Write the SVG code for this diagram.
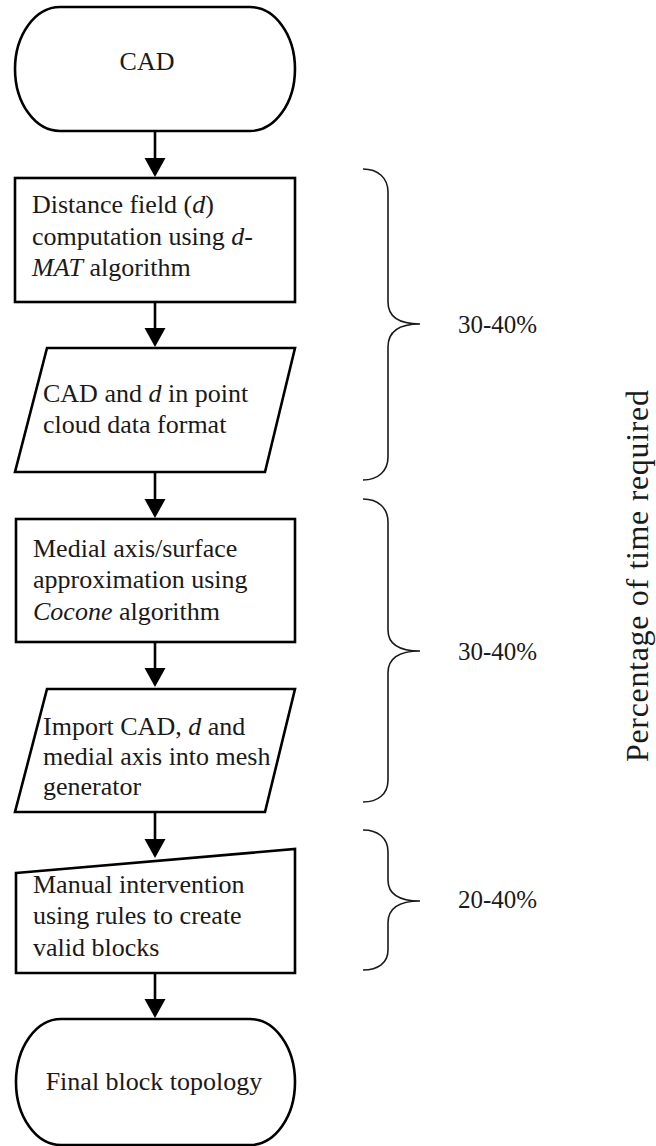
<svg xmlns="http://www.w3.org/2000/svg" width="656" height="1146" viewBox="0 0 656 1146">
<style>
.shape{fill:#fff;stroke:#000;stroke-width:2.6}
.conn{stroke:#000;stroke-width:2.6;fill:none}
.brace{stroke:#1a1a1a;stroke-width:1.6;fill:none}
text{font-family:"Liberation Serif","Times New Roman",serif;fill:#1a1a1a}
.t{font-size:26px}
.p{font-size:25px}
.i{font-style:italic}
</style>
<defs>
<marker id="ah" markerUnits="userSpaceOnUse" markerWidth="20" markerHeight="22" refX="0" refY="10.5" orient="auto">
<path d="M0,0 L19,10.5 L0,21 Z" fill="#000"/>
</marker>
</defs>
<rect width="656" height="1146" fill="#fff"/>
<g id="connectors">
<line class="conn" x1="155" y1="132" x2="155" y2="158" marker-end="url(#ah)"/>
<line class="conn" x1="155" y1="302" x2="155" y2="328" marker-end="url(#ah)"/>
<line class="conn" x1="155" y1="472" x2="155" y2="499" marker-end="url(#ah)"/>
<line class="conn" x1="155" y1="642" x2="155" y2="668" marker-end="url(#ah)"/>
<line class="conn" x1="155" y1="812" x2="155" y2="839" marker-end="url(#ah)"/>
<line class="conn" x1="155" y1="973" x2="155" y2="999" marker-end="url(#ah)"/>
</g>
<g id="n-cad">
<path class="shape" d="M60,7 H250 A45,62 0 0 1 250,131 H60 A45,62 0 0 1 60,7 Z"/>
<text class="t" x="147" y="70" text-anchor="middle">CAD</text>
</g>
<g id="n-distance">
<rect class="shape" x="15" y="178" width="280" height="124"/>
<text class="t" x="32" y="213">Distance field (<tspan class="i">d</tspan>)</text>
<text class="t" x="32" y="245">computation using <tspan class="i">d</tspan>-</text>
<text class="t" x="32" y="276"><tspan class="i">MAT</tspan> algorithm</text>
</g>
<g id="n-pointcloud">
<path class="shape" d="M47,348 H295 L265,472 H15 Z"/>
<text class="t" x="43" y="402">CAD and <tspan class="i">d</tspan> in point</text>
<text class="t" x="43" y="433">cloud data format</text>
</g>
<g id="n-medial">
<rect class="shape" x="16" y="519" width="279" height="123"/>
<text class="t" x="33" y="557">Medial axis/surface</text>
<text class="t" x="33" y="588">approximation using</text>
<text class="t" x="33" y="620"><tspan class="i">Cocone</tspan> algorithm</text>
</g>
<g id="n-import">
<path class="shape" d="M47,689 H295 L265,812 H15 Z"/>
<text class="t" x="43" y="735">Import CAD, <tspan class="i">d</tspan> and</text>
<text class="t" x="43" y="765">medial axis into mesh</text>
<text class="t" x="43" y="795">generator</text>
</g>
<g id="n-manual">
<path class="shape" d="M16,873 L295,849 V973 H16 Z"/>
<text class="t" x="33" y="893">Manual intervention</text>
<text class="t" x="33" y="924">using rules to create</text>
<text class="t" x="33" y="956">valid blocks</text>
</g>
<g id="n-final">
<path class="shape" d="M61,1019 H250 A45,63 0 0 1 250,1145 H61 A45,63 0 0 1 61,1019 Z"/>
<text class="t" x="154" y="1090" text-anchor="middle">Final block topology</text>
</g>
<g id="braces">
<path class="brace" d="M363,169 C378,169 388,178 388,192 L388,302 C388,316 398,324 420,324 C398,324 388,332 388,347 L388,457 C388,471 378,480 363,480"/>
<path class="brace" d="M363,499 C378,499 388,508 388,522 L388,630 C388,644 398,651 420,651 C398,651 388,659 388,673 L388,780 C388,794 378,802 363,802"/>
<path class="brace" d="M363,830 C378,830 388,838 388,852 L388,880 C388,894 398,901 420,901 C398,901 388,909 388,923 L388,950 C388,963 378,970 363,970"/>
</g>
<g id="labels">
<text class="p" x="458" y="333">30-40%</text>
<text class="p" x="458" y="660">30-40%</text>
<text class="p" x="458" y="908">20-40%</text>
<text x="0" y="0" font-size="32" text-anchor="middle" textLength="372" lengthAdjust="spacing" transform="translate(648,576) rotate(-90)">Percentage of time required</text>
</g>
</svg>
